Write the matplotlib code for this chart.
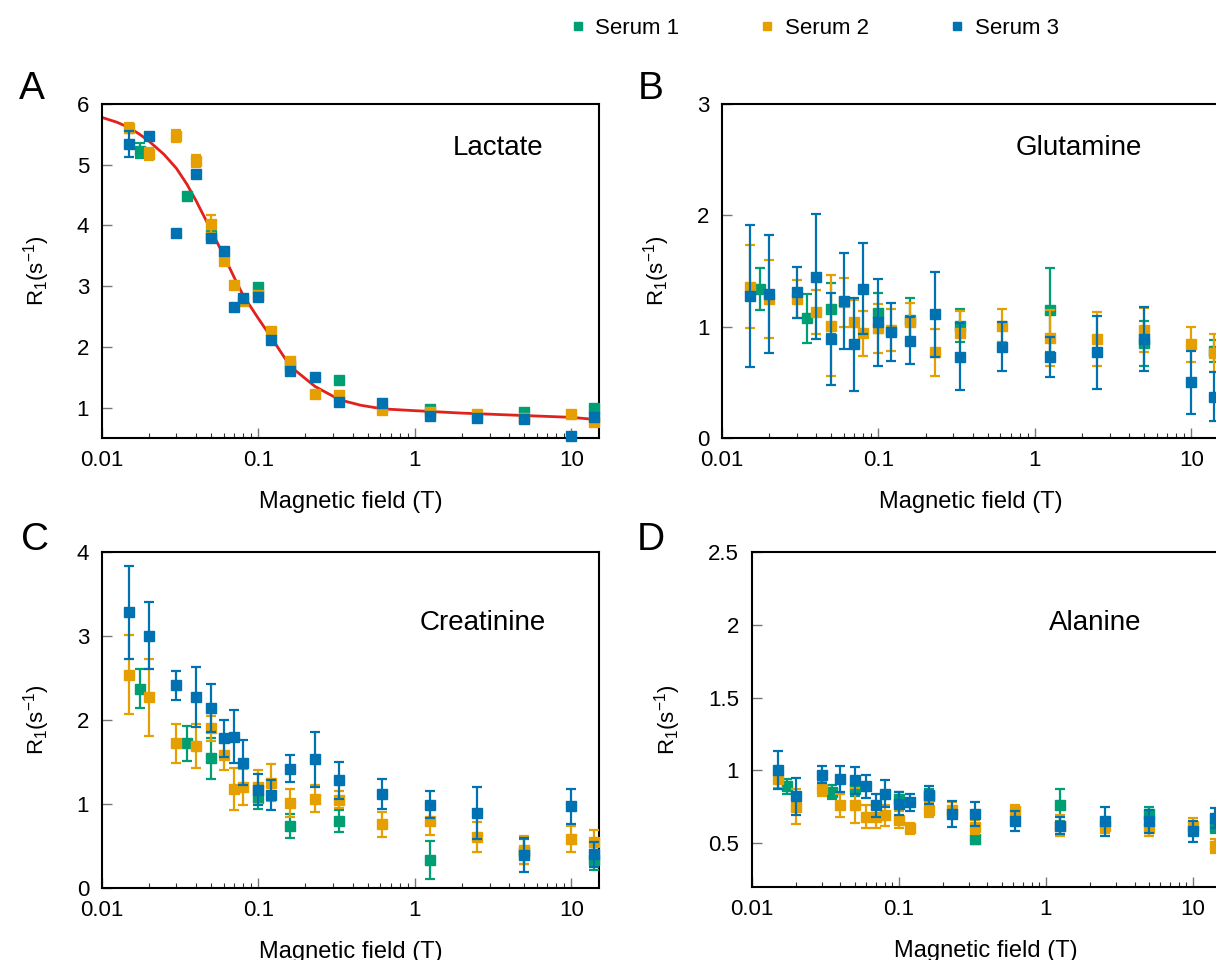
import matplotlib
matplotlib.use("Agg")
import matplotlib.pyplot as plt
from matplotlib.lines import Line2D
from matplotlib.ticker import FormatStrFormatter, LogLocator, NullFormatter

plt.rcParams['font.family'] = ['Liberation Sans', 'DejaVu Sans']
plt.rcParams['mathtext.fontset'] = 'custom'
plt.rcParams['mathtext.rm'] = 'Liberation Sans'
plt.rcParams['mathtext.it'] = 'Liberation Sans'
plt.rcParams['mathtext.default'] = 'regular'

# fields (T) measured for each serum
fields_1 = [0.0175, 0.035, 0.05, 0.1, 0.16, 0.33, 1.25, 5, 14]
fields_23 = [0.015, 0.02, 0.03, 0.04, 0.05, 0.06, 0.07, 0.08, 0.1, 0.12,
             0.16, 0.23, 0.33, 0.62, 1.25, 2.5, 5, 10, 14]

series_names = ['Serum 1', 'Serum 2', 'Serum 3']
series_colors = ['#009E73', '#E69F00', '#0072B2']

# Lactate
lac_1 = [5.23, 4.49, 3.85, 2.98, 1.70, 1.45, 0.98, 0.93, 1.00]
lac_1_err = [0.12, 0.05, 0.05, 0.05, 0.05, 0.05, 0.04, 0.04, 0.04]
lac_2 = [5.60, 5.18, 5.47, 5.06, 4.02, 3.42, 3.02, 2.75, 2.85, 2.26,
         1.77, 1.22, 1.20, 0.96, 0.92, 0.89, 0.83, 0.90, 0.77]
lac_2_err = [0.08, 0.10, 0.10, 0.10, 0.15, 0.05, 0.05, 0.05, 0.05, 0.05,
             0.05, 0.04, 0.04, 0.04, 0.04, 0.04, 0.04, 0.04, 0.04]
lac_3 = [5.34, 5.48, 3.88, 4.85, 3.80, 3.58, 2.66, 2.80, 2.83, 2.11,
         1.60, 1.51, 1.09, 1.08, 0.87, 0.83, 0.81, 0.54, 0.85]
lac_3_err = [0.22, 0.05, 0.05, 0.05, 0.05, 0.05, 0.05, 0.05, 0.05, 0.05,
             0.05, 0.04, 0.04, 0.04, 0.04, 0.04, 0.04, 0.04, 0.04]

# fitted curve for lactate
fit_field = [0.01, 0.0125, 0.015, 0.0175, 0.02, 0.025, 0.03, 0.035, 0.04, 0.05, 0.06, 0.07,
             0.08, 0.1, 0.12, 0.16, 0.23, 0.33, 0.45, 0.62, 1, 2, 5, 10, 15]
fit_r1 = [5.78, 5.70, 5.61, 5.50, 5.39, 5.17, 4.94, 4.68, 4.41, 3.92, 3.51, 3.15,
          2.85, 2.47, 2.17, 1.68, 1.35, 1.13, 1.04, 0.98, 0.95, 0.91, 0.87, 0.84, 0.80]

# Glutamine
glu_1 = [1.34, 1.075, 1.16, 1.12, 1.06, 1.01, 1.15, 0.85, 0.78]
glu_1_err = [0.19, 0.22, 0.23, 0.18, 0.20, 0.15, 0.38, 0.20, 0.10]
glu_2 = [1.36, 1.245, 1.25, 1.13, 1.01, 1.22, 1.04, 0.94, 0.985, 0.97,
         1.04, 0.77, 0.94, 1.01, 0.90, 0.89, 0.97, 0.84, 0.76]
glu_2_err = [0.37, 0.35, 0.17, 0.20, 0.45, 0.22, 0.20, 0.20, 0.22, 0.19,
             0.17, 0.21, 0.20, 0.15, 0.25, 0.24, 0.20, 0.16, 0.17]
glu_3 = [1.275, 1.29, 1.31, 1.45, 0.89, 1.23, 0.84, 1.34, 1.04, 0.95,
         0.875, 1.11, 0.73, 0.82, 0.73, 0.77, 0.89, 0.50, 0.37]
glu_3_err = [0.64, 0.53, 0.23, 0.56, 0.41, 0.43, 0.42, 0.41, 0.39, 0.26,
             0.21, 0.38, 0.30, 0.22, 0.18, 0.33, 0.29, 0.28, 0.22]

# Creatinine
cre_1 = [2.37, 1.72, 1.54, 1.07, 0.735, 0.79, 0.33, 0.43, 0.33]
cre_1_err = [0.23, 0.21, 0.24, 0.13, 0.14, 0.13, 0.23, 0.15, 0.12]
cre_2 = [2.54, 2.27, 1.72, 1.69, 1.90, 1.58, 1.18, 1.20, 1.20, 1.25,
         1.01, 1.06, 1.05, 0.755, 0.80, 0.60, 0.45, 0.58, 0.54]
cre_2_err = [0.47, 0.46, 0.23, 0.26, 0.15, 0.18, 0.25, 0.21, 0.20, 0.22,
             0.17, 0.16, 0.10, 0.15, 0.17, 0.18, 0.17, 0.16, 0.15]
cre_3 = [3.28, 3.00, 2.41, 2.27, 2.14, 1.78, 1.80, 1.49, 1.17, 1.10,
         1.42, 1.53, 1.28, 1.12, 0.99, 0.89, 0.39, 0.97, 0.40]
cre_3_err = [0.55, 0.40, 0.17, 0.36, 0.29, 0.22, 0.32, 0.27, 0.19, 0.18,
             0.16, 0.33, 0.22, 0.18, 0.16, 0.31, 0.20, 0.21, 0.15]

# Alanine
ala_1 = [0.89, 0.85, 0.87, 0.80, 0.82, 0.53, 0.76, 0.70, 0.61]
ala_1_err = [0.05, 0.05, 0.05, 0.05, 0.05, 0.04, 0.11, 0.05, 0.04]
ala_2 = [0.94, 0.75, 0.87, 0.76, 0.76, 0.68, 0.68, 0.69, 0.66, 0.60,
         0.73, 0.73, 0.61, 0.72, 0.62, 0.62, 0.60, 0.62, 0.48]
ala_2_err = [0.06, 0.12, 0.05, 0.08, 0.12, 0.08, 0.08, 0.07, 0.06, 0.04,
             0.05, 0.05, 0.05, 0.04, 0.07, 0.05, 0.05, 0.05, 0.05]
ala_3 = [1.00, 0.82, 0.97, 0.94, 0.93, 0.89, 0.76, 0.84, 0.77, 0.78,
         0.83, 0.70, 0.70, 0.65, 0.62, 0.65, 0.65, 0.58, 0.67]
ala_3_err = [0.13, 0.13, 0.06, 0.09, 0.09, 0.08, 0.08, 0.09, 0.08, 0.06,
             0.06, 0.09, 0.08, 0.07, 0.06, 0.10, 0.08, 0.07, 0.07]

W, H = 1216, 960


#axes box from pixel edges
def box(left, right, top, bottom):
    return [left / W, 1 - bottom / H, (right - left) / W, (bottom - top) / H]


def drawPanel(fig, rect, name, name_xy, ylim, yticks, data):
    ax = fig.add_axes(rect)
    fields = [fields_1, fields_23, fields_23]
    for i, (vals, errs) in enumerate(data):
        c = series_colors[i]
        ax.errorbar(fields[i], vals, yerr=errs, fmt='s', color=c, mfc=c, mec=c,
                    ms=7, elinewidth=1.6, capsize=3.5, capthick=1.6,
                    clip_on=False, zorder=3 + i)
    ax.set_xscale('log')
    ax.set_xlim(0.01, 15)
    ax.set_ylim(*ylim)
    ax.set_yticks(yticks)
    ax.xaxis.set_major_locator(LogLocator(base=10))
    ax.xaxis.set_minor_locator(LogLocator(base=10, subs=range(2, 10)))
    ax.xaxis.set_minor_formatter(NullFormatter())
    ax.xaxis.set_major_formatter(FormatStrFormatter('%g'))
    ax.yaxis.set_major_formatter(FormatStrFormatter('%g'))
    ax.tick_params(which='major', direction='in', length=7, width=1, color='#777777',
                   labelsize=16, pad=9, top=False, right=False)
    ax.tick_params(which='minor', direction='in', length=3.5, width=0.8, color='#333333',
                   top=False, right=False)
    for s in ax.spines.values():
        s.set_linewidth(1.5)
    ax.set_xlabel('Magnetic field (T)', fontsize=17, labelpad=14)
    ax.set_ylabel(r'R$_1$(s$^{-1}$)', fontsize=16, labelpad=18)
    ax.text(name_xy[0], name_xy[1], name, transform=ax.transAxes, fontsize=20,
            ha='center', va='center')
    return ax


fig = plt.figure(figsize=(W / 100, H / 100), dpi=100)

axA = drawPanel(fig, box(101.7, 599, 104, 438), 'Lactate', (0.798, 0.868),
                (0.5, 6), [1, 2, 3, 4, 5, 6],
                [(lac_1, lac_1_err), (lac_2, lac_2_err), (lac_3, lac_3_err)])
axA.plot(fit_field, fit_r1, color='#E3211C', lw=2, zorder=2)

axB = drawPanel(fig, box(722, 1219, 104, 438), 'Glutamine', (0.718, 0.868),
                (0, 3), [0, 1, 2, 3],
                [(glu_1, glu_1_err), (glu_2, glu_2_err), (glu_3, glu_3_err)])
axC = drawPanel(fig, box(101.7, 599, 552, 887.7), 'Creatinine', (0.767, 0.789),
                (0, 4), [0, 1, 2, 3, 4],
                [(cre_1, cre_1_err), (cre_2, cre_2_err), (cre_3, cre_3_err)])
axD = drawPanel(fig, box(751.7, 1219, 552, 886.7), 'Alanine', (0.735, 0.788),
                (0.2, 2.5), [0.5, 1, 1.5, 2, 2.5],
                [(ala_1, ala_1_err), (ala_2, ala_2_err), (ala_3, ala_3_err)])

# panel letters
fig.text(32 / W, 1 - 89 / H, 'A', fontsize=28, ha='center', va='center')
fig.text(651 / W, 1 - 89 / H, 'B', fontsize=28, ha='center', va='center')
fig.text(35 / W, 1 - 540 / H, 'C', fontsize=28, ha='center', va='center')
fig.text(651 / W, 1 - 540 / H, 'D', fontsize=28, ha='center', va='center')

handles = [Line2D([], [], marker='s', ls='', color=c, ms=6) for c in series_colors]
fig.legend(handles, series_names, loc='center left', bbox_to_anchor=(571 / W, 1 - 28 / H),
           ncol=3, frameon=False, fontsize=16, handlelength=0.6, handletextpad=0.5,
           columnspacing=3.65, borderpad=0, borderaxespad=0)

fig.savefig('out.png', dpi=100)
